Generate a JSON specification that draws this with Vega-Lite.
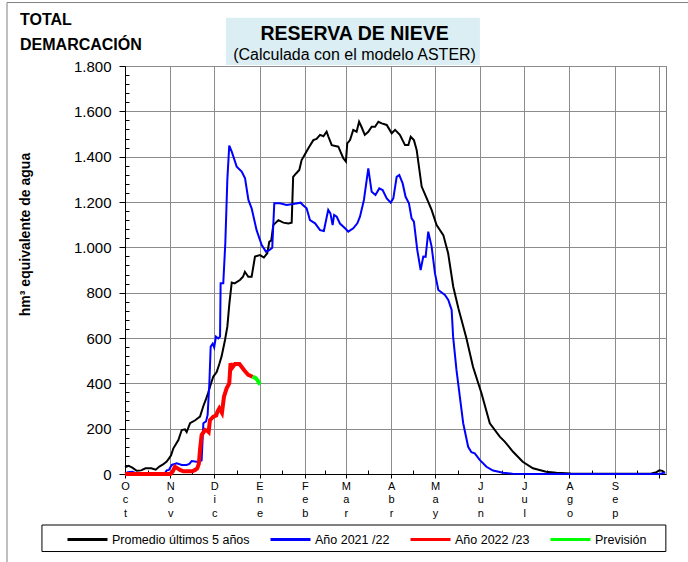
{
  "$schema": "https://vega.github.io/schema/vega-lite/v6.json",
  "width": 541,
  "height": 408,
  "autosize": {"type": "none"},
  "padding": {"left": 125, "top": 66, "right": 22, "bottom": 88},
  "background": "white",
  "config": {"font": "Liberation Sans", "view": {"stroke": "#808080", "strokeWidth": 1}},
  "datasets": {
    "series": [
      {"d":0,"v":30,"s":"Promedio últimos 5 años"},{"d":2.5,"v":36,"s":"Promedio últimos 5 años"},{"d":5,"v":28,"s":"Promedio últimos 5 años"},{"d":8,"v":14,"s":"Promedio últimos 5 años"},{"d":11,"v":16,"s":"Promedio últimos 5 años"},{"d":14,"v":25,"s":"Promedio últimos 5 años"},{"d":18,"v":25,"s":"Promedio últimos 5 años"},{"d":21,"v":19,"s":"Promedio últimos 5 años"},{"d":23.5,"v":33,"s":"Promedio últimos 5 años"},{"d":26,"v":42,"s":"Promedio últimos 5 años"},{"d":28.5,"v":55,"s":"Promedio últimos 5 años"},{"d":30,"v":68,"s":"Promedio últimos 5 años"},{"d":31.5,"v":82,"s":"Promedio últimos 5 años"},{"d":33,"v":112,"s":"Promedio últimos 5 años"},{"d":36.5,"v":150,"s":"Promedio últimos 5 años"},{"d":38.8,"v":194,"s":"Promedio últimos 5 años"},{"d":41,"v":197,"s":"Promedio últimos 5 años"},{"d":42.2,"v":185,"s":"Promedio últimos 5 años"},{"d":44.5,"v":224,"s":"Promedio últimos 5 años"},{"d":48,"v":237,"s":"Promedio últimos 5 años"},{"d":51.3,"v":253,"s":"Promedio últimos 5 años"},{"d":53.6,"v":300,"s":"Promedio últimos 5 años"},{"d":55.4,"v":330,"s":"Promedio últimos 5 años"},{"d":57,"v":360,"s":"Promedio últimos 5 años"},{"d":58.6,"v":395,"s":"Promedio últimos 5 años"},{"d":60.4,"v":430,"s":"Promedio últimos 5 años"},{"d":62.7,"v":450,"s":"Promedio últimos 5 años"},{"d":64.5,"v":485,"s":"Promedio últimos 5 años"},{"d":66.1,"v":520,"s":"Promedio últimos 5 años"},{"d":68.4,"v":591,"s":"Promedio últimos 5 años"},{"d":70,"v":650,"s":"Promedio últimos 5 años"},{"d":71.4,"v":753,"s":"Promedio últimos 5 años"},{"d":73,"v":845,"s":"Promedio últimos 5 años"},{"d":75,"v":841,"s":"Promedio últimos 5 años"},{"d":78.6,"v":856,"s":"Promedio últimos 5 años"},{"d":80.7,"v":870,"s":"Promedio últimos 5 años"},{"d":82,"v":892,"s":"Promedio últimos 5 años"},{"d":84.3,"v":870,"s":"Promedio últimos 5 años"},{"d":86.6,"v":870,"s":"Promedio últimos 5 años"},{"d":88.9,"v":959,"s":"Promedio últimos 5 años"},{"d":92.3,"v":966,"s":"Promedio últimos 5 años"},{"d":95,"v":955,"s":"Promedio últimos 5 años"},{"d":97.3,"v":974,"s":"Promedio últimos 5 años"},{"d":98.7,"v":1025,"s":"Promedio últimos 5 años"},{"d":100,"v":1030,"s":"Promedio últimos 5 años"},{"d":101.4,"v":1098,"s":"Promedio últimos 5 años"},{"d":104.9,"v":1120,"s":"Promedio últimos 5 años"},{"d":108.3,"v":1109,"s":"Promedio últimos 5 años"},{"d":111.7,"v":1105,"s":"Promedio últimos 5 años"},{"d":114,"v":1109,"s":"Promedio últimos 5 años"},{"d":115,"v":1311,"s":"Promedio últimos 5 años"},{"d":117,"v":1326,"s":"Promedio últimos 5 años"},{"d":119.2,"v":1341,"s":"Promedio últimos 5 años"},{"d":120.8,"v":1385,"s":"Promedio últimos 5 años"},{"d":123,"v":1410,"s":"Promedio últimos 5 años"},{"d":125.4,"v":1437,"s":"Promedio últimos 5 años"},{"d":128.8,"v":1473,"s":"Promedio últimos 5 años"},{"d":131,"v":1478,"s":"Promedio últimos 5 años"},{"d":133.4,"v":1496,"s":"Promedio últimos 5 años"},{"d":135.7,"v":1490,"s":"Promedio últimos 5 años"},{"d":137.9,"v":1510,"s":"Promedio últimos 5 años"},{"d":139,"v":1490,"s":"Promedio últimos 5 años"},{"d":141.4,"v":1451,"s":"Promedio últimos 5 años"},{"d":145.9,"v":1444,"s":"Promedio últimos 5 años"},{"d":147.5,"v":1420,"s":"Promedio últimos 5 años"},{"d":149.3,"v":1393,"s":"Promedio últimos 5 años"},{"d":151.1,"v":1378,"s":"Promedio últimos 5 años"},{"d":152,"v":1459,"s":"Promedio últimos 5 años"},{"d":153.9,"v":1473,"s":"Promedio últimos 5 años"},{"d":156.1,"v":1518,"s":"Promedio últimos 5 años"},{"d":158.4,"v":1510,"s":"Promedio últimos 5 años"},{"d":160.1,"v":1554,"s":"Promedio últimos 5 años"},{"d":161.7,"v":1532,"s":"Promedio últimos 5 años"},{"d":164,"v":1496,"s":"Promedio últimos 5 años"},{"d":166.4,"v":1510,"s":"Promedio últimos 5 años"},{"d":168.7,"v":1532,"s":"Promedio últimos 5 años"},{"d":171,"v":1532,"s":"Promedio últimos 5 años"},{"d":173.3,"v":1554,"s":"Promedio últimos 5 años"},{"d":175.6,"v":1547,"s":"Promedio últimos 5 años"},{"d":179,"v":1540,"s":"Promedio últimos 5 años"},{"d":182.4,"v":1503,"s":"Promedio últimos 5 años"},{"d":184.7,"v":1518,"s":"Promedio últimos 5 años"},{"d":188,"v":1496,"s":"Promedio últimos 5 años"},{"d":191.5,"v":1451,"s":"Promedio últimos 5 años"},{"d":193.8,"v":1451,"s":"Promedio últimos 5 años"},{"d":195.4,"v":1488,"s":"Promedio últimos 5 años"},{"d":197.6,"v":1473,"s":"Promedio últimos 5 años"},{"d":199.5,"v":1429,"s":"Promedio últimos 5 años"},{"d":202.9,"v":1268,"s":"Promedio últimos 5 años"},{"d":206.8,"v":1209,"s":"Promedio últimos 5 años"},{"d":209.7,"v":1165,"s":"Promedio últimos 5 años"},{"d":213.1,"v":1098,"s":"Promedio últimos 5 años"},{"d":217.7,"v":1054,"s":"Promedio últimos 5 años"},{"d":221,"v":974,"s":"Promedio últimos 5 años"},{"d":224.5,"v":826,"s":"Promedio últimos 5 años"},{"d":228,"v":731,"s":"Promedio últimos 5 años"},{"d":233.5,"v":599,"s":"Promedio últimos 5 años"},{"d":238,"v":473,"s":"Promedio últimos 5 años"},{"d":243.8,"v":356,"s":"Promedio últimos 5 años"},{"d":249.5,"v":224,"s":"Promedio últimos 5 años"},{"d":256.3,"v":165,"s":"Promedio últimos 5 años"},{"d":259.7,"v":143,"s":"Promedio últimos 5 años"},{"d":265.4,"v":98,"s":"Promedio últimos 5 años"},{"d":272,"v":54,"s":"Promedio últimos 5 años"},{"d":279,"v":25,"s":"Promedio últimos 5 años"},{"d":288,"v":10,"s":"Promedio últimos 5 años"},{"d":295,"v":5,"s":"Promedio últimos 5 años"},{"d":305,"v":2,"s":"Promedio últimos 5 años"},{"d":320,"v":1,"s":"Promedio últimos 5 años"},{"d":340,"v":1,"s":"Promedio últimos 5 años"},{"d":360,"v":2,"s":"Promedio últimos 5 años"},{"d":363.5,"v":8,"s":"Promedio últimos 5 años"},{"d":365.5,"v":16,"s":"Promedio últimos 5 años"},{"d":367.5,"v":14,"s":"Promedio últimos 5 años"},{"d":369,"v":6,"s":"Promedio últimos 5 años"},

      {"d":0,"v":3,"s":"Año 2021 /22"},{"d":2,"v":8,"s":"Año 2021 /22"},{"d":5,"v":10,"s":"Año 2021 /22"},{"d":8,"v":3,"s":"Año 2021 /22"},{"d":11,"v":0,"s":"Año 2021 /22"},{"d":27,"v":0,"s":"Año 2021 /22"},{"d":28.5,"v":16,"s":"Año 2021 /22"},{"d":30,"v":18,"s":"Año 2021 /22"},{"d":32,"v":40,"s":"Año 2021 /22"},{"d":35.4,"v":47,"s":"Año 2021 /22"},{"d":38.8,"v":40,"s":"Año 2021 /22"},{"d":42.2,"v":40,"s":"Año 2021 /22"},{"d":44,"v":45,"s":"Año 2021 /22"},{"d":45.6,"v":57,"s":"Año 2021 /22"},{"d":49,"v":54,"s":"Año 2021 /22"},{"d":51,"v":55,"s":"Año 2021 /22"},{"d":52.4,"v":60,"s":"Año 2021 /22"},{"d":53.6,"v":224,"s":"Año 2021 /22"},{"d":55.4,"v":232,"s":"Año 2021 /22"},{"d":56.5,"v":260,"s":"Año 2021 /22"},{"d":57.7,"v":400,"s":"Año 2021 /22"},{"d":58.6,"v":562,"s":"Año 2021 /22"},{"d":60,"v":575,"s":"Año 2021 /22"},{"d":61,"v":558,"s":"Año 2021 /22"},{"d":62.2,"v":606,"s":"Año 2021 /22"},{"d":63.8,"v":598,"s":"Año 2021 /22"},{"d":65,"v":606,"s":"Año 2021 /22"},{"d":65.4,"v":841,"s":"Año 2021 /22"},{"d":67.2,"v":841,"s":"Año 2021 /22"},{"d":68.6,"v":1018,"s":"Año 2021 /22"},{"d":70,"v":1300,"s":"Año 2021 /22"},{"d":71.3,"v":1449,"s":"Año 2021 /22"},{"d":73,"v":1422,"s":"Año 2021 /22"},{"d":76.4,"v":1356,"s":"Año 2021 /22"},{"d":79.8,"v":1334,"s":"Año 2021 /22"},{"d":82.1,"v":1304,"s":"Año 2021 /22"},{"d":84.4,"v":1209,"s":"Año 2021 /22"},{"d":86.6,"v":1172,"s":"Año 2021 /22"},{"d":90,"v":1076,"s":"Año 2021 /22"},{"d":93.5,"v":1010,"s":"Año 2021 /22"},{"d":96.4,"v":981,"s":"Año 2021 /22"},{"d":98.7,"v":988,"s":"Año 2021 /22"},{"d":100.7,"v":998,"s":"Año 2021 /22"},{"d":102.1,"v":1194,"s":"Año 2021 /22"},{"d":105.9,"v":1194,"s":"Año 2021 /22"},{"d":110.5,"v":1187,"s":"Año 2021 /22"},{"d":115,"v":1191,"s":"Año 2021 /22"},{"d":120.1,"v":1197,"s":"Año 2021 /22"},{"d":122,"v":1185,"s":"Año 2021 /22"},{"d":124.2,"v":1172,"s":"Año 2021 /22"},{"d":126.5,"v":1120,"s":"Año 2021 /22"},{"d":130,"v":1106,"s":"Año 2021 /22"},{"d":133.4,"v":1076,"s":"Año 2021 /22"},{"d":136,"v":1072,"s":"Año 2021 /22"},{"d":138,"v":1135,"s":"Año 2021 /22"},{"d":139,"v":1165,"s":"Año 2021 /22"},{"d":140.5,"v":1150,"s":"Año 2021 /22"},{"d":142,"v":1098,"s":"Año 2021 /22"},{"d":143,"v":1143,"s":"Año 2021 /22"},{"d":144.8,"v":1135,"s":"Año 2021 /22"},{"d":147,"v":1105,"s":"Año 2021 /22"},{"d":150.5,"v":1084,"s":"Año 2021 /22"},{"d":152.7,"v":1069,"s":"Año 2021 /22"},{"d":156.1,"v":1084,"s":"Año 2021 /22"},{"d":158.9,"v":1106,"s":"Año 2021 /22"},{"d":160.7,"v":1135,"s":"Año 2021 /22"},{"d":163.4,"v":1209,"s":"Año 2021 /22"},{"d":166.4,"v":1348,"s":"Año 2021 /22"},{"d":168.7,"v":1245,"s":"Año 2021 /22"},{"d":171.3,"v":1231,"s":"Año 2021 /22"},{"d":173.9,"v":1260,"s":"Año 2021 /22"},{"d":176.2,"v":1253,"s":"Año 2021 /22"},{"d":179,"v":1216,"s":"Año 2021 /22"},{"d":181.7,"v":1197,"s":"Año 2021 /22"},{"d":183.5,"v":1216,"s":"Año 2021 /22"},{"d":185.8,"v":1311,"s":"Año 2021 /22"},{"d":187.6,"v":1319,"s":"Año 2021 /22"},{"d":189.9,"v":1282,"s":"Año 2021 /22"},{"d":191.9,"v":1223,"s":"Año 2021 /22"},{"d":194.2,"v":1194,"s":"Año 2021 /22"},{"d":196,"v":1128,"s":"Año 2021 /22"},{"d":197.6,"v":1113,"s":"Año 2021 /22"},{"d":199.9,"v":988,"s":"Año 2021 /22"},{"d":202.2,"v":900,"s":"Año 2021 /22"},{"d":204,"v":959,"s":"Año 2021 /22"},{"d":205.6,"v":958,"s":"Año 2021 /22"},{"d":207.4,"v":1069,"s":"Año 2021 /22"},{"d":209.7,"v":1003,"s":"Año 2021 /22"},{"d":212,"v":885,"s":"Año 2021 /22"},{"d":214.3,"v":812,"s":"Año 2021 /22"},{"d":218.8,"v":790,"s":"Año 2021 /22"},{"d":221.1,"v":768,"s":"Año 2021 /22"},{"d":223.4,"v":724,"s":"Año 2021 /22"},{"d":224.4,"v":606,"s":"Año 2021 /22"},{"d":226.7,"v":459,"s":"Año 2021 /22"},{"d":229,"v":341,"s":"Año 2021 /22"},{"d":231.3,"v":224,"s":"Año 2021 /22"},{"d":234.7,"v":120,"s":"Año 2021 /22"},{"d":236.9,"v":96,"s":"Año 2021 /22"},{"d":239.2,"v":91,"s":"Año 2021 /22"},{"d":242.6,"v":62,"s":"Año 2021 /22"},{"d":247.2,"v":32,"s":"Año 2021 /22"},{"d":251.7,"v":15,"s":"Año 2021 /22"},{"d":258.6,"v":6,"s":"Año 2021 /22"},{"d":265,"v":1,"s":"Año 2021 /22"},{"d":280,"v":0,"s":"Año 2021 /22"},{"d":366,"v":0,"s":"Año 2021 /22"},{"d":368,"v":5,"s":"Año 2021 /22"},{"d":369.5,"v":6,"s":"Año 2021 /22"},

      {"d":0,"v":0,"s":"Año 2022 /23"},{"d":31,"v":0,"s":"Año 2022 /23"},{"d":32.5,"v":10,"s":"Año 2022 /23"},{"d":34.2,"v":32,"s":"Año 2022 /23"},{"d":36,"v":25,"s":"Año 2022 /23"},{"d":37.6,"v":18,"s":"Año 2022 /23"},{"d":40,"v":12,"s":"Año 2022 /23"},{"d":46,"v":12,"s":"Año 2022 /23"},{"d":48,"v":18,"s":"Año 2022 /23"},{"d":49.4,"v":25,"s":"Año 2022 /23"},{"d":50.5,"v":45,"s":"Año 2022 /23"},{"d":51.3,"v":106,"s":"Año 2022 /23"},{"d":52.4,"v":172,"s":"Año 2022 /23"},{"d":54.7,"v":194,"s":"Año 2022 /23"},{"d":56.4,"v":190,"s":"Año 2022 /23"},{"d":57.2,"v":185,"s":"Año 2022 /23"},{"d":58.1,"v":238,"s":"Año 2022 /23"},{"d":60.4,"v":253,"s":"Año 2022 /23"},{"d":62.4,"v":258,"s":"Año 2022 /23"},{"d":63.2,"v":275,"s":"Año 2022 /23"},{"d":64.5,"v":290,"s":"Año 2022 /23"},{"d":66.3,"v":270,"s":"Año 2022 /23"},{"d":67.7,"v":341,"s":"Año 2022 /23"},{"d":69.5,"v":378,"s":"Año 2022 /23"},{"d":71.3,"v":400,"s":"Año 2022 /23"},{"d":72.2,"v":488,"s":"Año 2022 /23"},{"d":73.4,"v":470,"s":"Año 2022 /23"},{"d":75.2,"v":485,"s":"Año 2022 /23"},{"d":78.3,"v":485,"s":"Año 2022 /23"},{"d":81.4,"v":459,"s":"Año 2022 /23"},{"d":84.3,"v":437,"s":"Año 2022 /23"},{"d":87.3,"v":429,"s":"Año 2022 /23"},

      {"d":87.3,"v":429,"s":"Previsión"},{"d":89,"v":425,"s":"Previsión"},{"d":90.5,"v":415,"s":"Previsión"},{"d":91.8,"v":400,"s":"Previsión"},{"d":92.5,"v":396,"s":"Previsión"}
    ]
  },
  "data": {"name": "series"},
  "resolve": {"axis": {"x": "independent", "y": "independent"}},
  "layer": [
    {
      "data": {"values": [{}]},
      "mark": {"type": "rect", "fill": null, "stroke": "#808080", "strokeWidth": 1},
      "encoding": {
        "x": {"datum": -80.7, "type": "quantitative", "axis": null},
        "x2": {"datum": 430},
        "y": {"datum": 2080, "type": "quantitative", "axis": null},
        "y2": {"datum": -450}
      }
    },
    {
      "data": {"values": [{}]},
      "mark": {"type": "rect", "fill": "#DAEEF3"},
      "encoding": {
        "x": {"datum": 69, "type": "quantitative", "axis": null},
        "x2": {"datum": 242.7},
        "y": {"datum": 2013, "type": "quantitative", "axis": null},
        "y2": {"datum": 1804}
      }
    },
    {
      "data": {"values": [{}]},
      "mark": {"type": "text", "text": "RESERVA DE NIEVE", "fontSize": 19.5, "fontWeight": "bold", "align": "center", "baseline": "middle", "color": "black"},
      "encoding": {
        "x": {"datum": 157, "type": "quantitative", "axis": null},
        "y": {"datum": 1940, "type": "quantitative", "axis": null}
      }
    },
    {
      "data": {"values": [{}]},
      "mark": {"type": "text", "text": "(Calculada con el modelo ASTER)", "fontSize": 16, "align": "center", "baseline": "middle", "color": "black"},
      "encoding": {
        "x": {"datum": 157, "type": "quantitative", "axis": null},
        "y": {"datum": 1850, "type": "quantitative", "axis": null}
      }
    },
    {
      "data": {"values": [{}]},
      "mark": {"type": "text", "text": ["TOTAL", "DEMARCACIÓN"], "lineHeight": 25, "fontSize": 16, "fontWeight": "bold", "align": "left", "baseline": "middle", "color": "black"},
      "encoding": {
        "x": {"datum": -71.8, "type": "quantitative", "axis": null},
        "y": {"datum": 2004, "type": "quantitative", "axis": null}
      }
    },
    {
      "data": {"values": [{}]},
      "mark": {"type": "rect", "fill": "white", "stroke": "black", "strokeWidth": 1},
      "encoding": {
        "x": {"datum": -56.8, "type": "quantitative", "axis": null},
        "x2": {"datum": 369.9},
        "y": {"datum": -225, "type": "quantitative", "axis": null},
        "y2": {"datum": -342}
      }
    },
    {
      "transform": [{"filter": "datum.s === 'Promedio últimos 5 años'"}],
      "mark": {"type": "line", "strokeWidth": 2},
      "encoding": {
        "x": {"field": "d", "type": "quantitative",
          "scale": {"domain": [0, 370], "nice": false, "zero": false},
          "axis": {"orient": "bottom", "values": [0,31,61,92,123,151,182,212,243,273,304,335,365],
            "labelExpr": "split(['Oct','Nov','Dic','Ene','Feb','Mar','Abr','May','Jun','Jul','Ago','Sep',''][indexof([0,31,61,92,123,151,182,212,243,273,304,335,365], datum.value)], '')",
            "labelAngle": 0, "labelFontSize": 11, "labelLineHeight": 13.5, "labelBaseline": "top", "labelAlign": "center",
            "labelPadding": 2, "labelOverlap": false, "labelBound": false, "labelFlush": false, "labelColor": "black",
            "tickSize": 4, "tickColor": "black", "domainColor": "black", "grid": true, "gridColor": "#8c8c8c", "title": null}},
        "y": {"field": "v", "type": "quantitative",
          "scale": {"domain": [0, 1800], "nice": false, "zero": false},
          "axis": {"orient": "left", "values": [0,200,400,600,800,1000,1200,1400,1600,1800],
            "labelExpr": "replace(format(datum.value, ','), ',', '.')",
            "labelFontSize": 15, "labelColor": "black", "labelPadding": 8, "tickSize": 6, "tickColor": "black",
            "domainColor": "black", "grid": true, "gridColor": "#8c8c8c",
            "title": "hm³ equivalente de agua", "titleFontSize": 14, "titleFontWeight": "bold", "titleColor": "black", "titlePadding": 41, "titleY": 168}},
        "color": {"field": "s", "type": "nominal",
          "scale": {"domain": ["Promedio últimos 5 años", "Año 2021 /22", "Año 2022 /23", "Previsión"], "range": ["#000000", "#0000FF", "#FF0000", "#00FF00"]},
          "legend": {"orient": "none", "legendX": -59, "legendY": 452, "direction": "horizontal", "title": null, "gridAlign": "none",
            "symbolType": "stroke", "symbolSize": 1600, "symbolStrokeWidth": 3, "labelFontSize": 12.5, "labelColor": "black",
            "columnPadding": 14, "labelOffset": 3, "padding": 0}}
      }
    },
    {
      "transform": [{"filter": "datum.s === 'Año 2021 /22'"}],
      "mark": {"type": "line", "strokeWidth": 2},
      "encoding": {
        "x": {"field": "d", "type": "quantitative",
          "axis": {"orient": "bottom", "values": [15.5,46,76.5,107.5,137,166.5,197,227.5,258,288.5,319.5,350],
            "labels": false, "domain": false, "grid": false, "tickSize": -4, "tickColor": "black", "title": null}},
        "y": {"field": "v", "type": "quantitative",
          "axis": {"orient": "left", "values": [40,80,120,160,240,280,320,360,440,480,520,560,640,680,720,760,840,880,920,960,1040,1080,1120,1160,1240,1280,1320,1360,1440,1480,1520,1560,1640,1680,1720,1760],
            "labels": false, "domain": false, "grid": false, "tickSize": -4, "tickColor": "black", "title": null}},
        "color": {"field": "s", "type": "nominal"}
      }
    },
    {
      "transform": [{"filter": "datum.s === 'Año 2022 /23'"}],
      "mark": {"type": "line", "strokeWidth": 4},
      "encoding": {
        "x": {"field": "d", "type": "quantitative", "axis": null},
        "y": {"field": "v", "type": "quantitative", "axis": null},
        "color": {"field": "s", "type": "nominal"}
      }
    },
    {
      "transform": [{"filter": "datum.s === 'Previsión'"}],
      "mark": {"type": "line", "strokeWidth": 4},
      "encoding": {
        "x": {"field": "d", "type": "quantitative", "axis": null},
        "y": {"field": "v", "type": "quantitative", "axis": null},
        "color": {"field": "s", "type": "nominal"}
      }
    }
  ]
}
